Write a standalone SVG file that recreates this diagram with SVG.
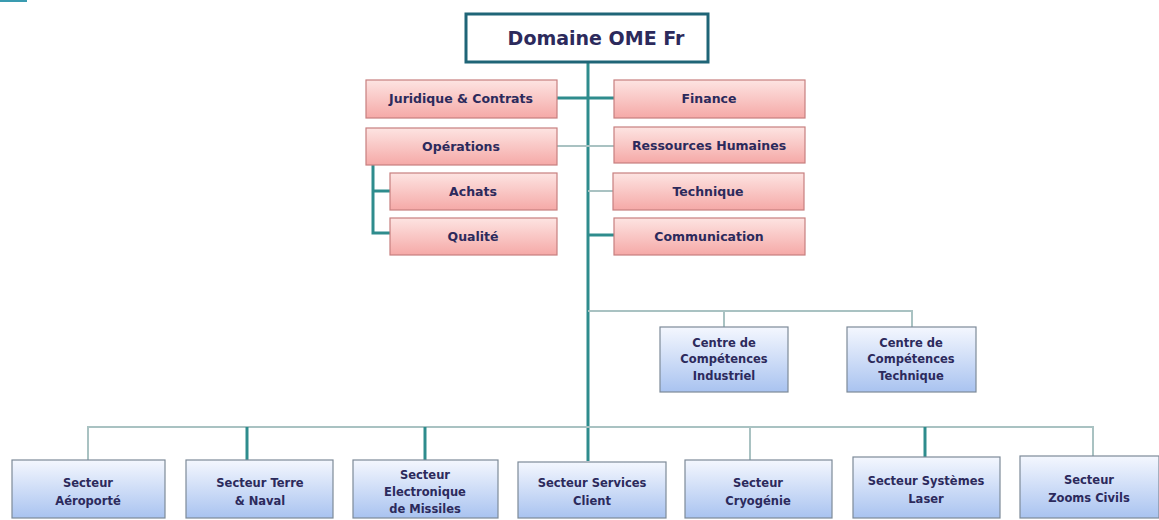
<svg xmlns="http://www.w3.org/2000/svg" width="1159" height="520" viewBox="0 0 1159 520">
<defs>
<linearGradient id="pink" x1="0" y1="0" x2="0" y2="1">
<stop offset="0" stop-color="#fde4e2"/>
<stop offset="1" stop-color="#f5a9a7"/>
</linearGradient>
<linearGradient id="blue" x1="0" y1="0" x2="0" y2="1">
<stop offset="0" stop-color="#f4f7fe"/>
<stop offset="1" stop-color="#a9c3f0"/>
</linearGradient>
<style>
.pk{fill:url(#pink);stroke:#c77f7f;stroke-width:1.2}
.bl{fill:url(#blue);stroke:#7d8a98;stroke-width:1.2}
.t{font-family:"DejaVu Sans","Liberation Sans",sans-serif;font-weight:bold;fill:#2c2a5c;text-anchor:middle}
.s{font-size:12.5px}
.b{font-size:11.5px}
.main{stroke:#2e8c8d;stroke-width:3;fill:none}
.thin{stroke:#a9c2c2;stroke-width:2;fill:none}
</style>
</defs>
<rect width="1159" height="520" fill="#ffffff"/>
<rect x="0" y="0" width="27" height="2" fill="#3a9bb0"/>
<g id="connectors">
<line class="main" x1="588" y1="62" x2="588" y2="461"/>
<line class="main" x1="557" y1="98" x2="614" y2="98"/>
<line class="thin" x1="557" y1="146" x2="614" y2="146"/>
<line class="thin" x1="588" y1="191" x2="613" y2="191"/>
<line class="main" x1="588" y1="235" x2="614" y2="235"/>
<polyline class="main" points="373,165 373,233 390,233"/>
<line class="main" x1="373" y1="191" x2="390" y2="191"/>
<polyline class="thin" points="588,311 912,311 912,327"/>
<line class="thin" x1="724" y1="311" x2="724" y2="327"/>
<polyline class="thin" points="88,460 88,427 1093,427 1093,456"/>
<line class="main" x1="247" y1="427" x2="247" y2="460"/>
<line class="main" x1="425" y1="427" x2="425" y2="460"/>
<line class="thin" x1="750" y1="427" x2="750" y2="460"/>
<line class="main" x1="925" y1="427" x2="925" y2="457"/>
</g>
<g id="domaine">
<rect x="466" y="14" width="242" height="48" fill="#ffffff" stroke="#1f6577" stroke-width="3"/>
<text class="t" x="596" y="45" font-size="19">Domaine OME Fr</text>
</g>
<g id="juridique"><rect class="pk" x="366" y="80" width="191" height="38"/><text class="t s" x="461" y="103">Juridique &amp; Contrats</text></g>
<g id="finance"><rect class="pk" x="614" y="80" width="191" height="38"/><text class="t s" x="709" y="103">Finance</text></g>
<g id="operations"><rect class="pk" x="366" y="128" width="191" height="37"/><text class="t s" x="461" y="151">Opérations</text></g>
<g id="rh"><rect class="pk" x="614" y="127" width="191" height="36"/><text class="t s" x="709" y="150">Ressources Humaines</text></g>
<g id="achats"><rect class="pk" x="390" y="173" width="167" height="37"/><text class="t s" x="473" y="196">Achats</text></g>
<g id="technique"><rect class="pk" x="613" y="173" width="191" height="37"/><text class="t s" x="708" y="196">Technique</text></g>
<g id="qualite"><rect class="pk" x="390" y="218" width="167" height="37"/><text class="t s" x="473" y="241">Qualité</text></g>
<g id="communication"><rect class="pk" x="614" y="218" width="191" height="37"/><text class="t s" x="709" y="241">Communication</text></g>
<g id="cc-industriel"><rect class="bl" x="660" y="327" width="128" height="65"/><text class="t b" x="724" y="347">Centre de</text><text class="t b" x="724" y="363">Compétences</text><text class="t b" x="724" y="380">Industriel</text></g>
<g id="cc-technique"><rect class="bl" x="847" y="327" width="129" height="65"/><text class="t b" x="911" y="347">Centre de</text><text class="t b" x="911" y="363">Compétences</text><text class="t b" x="911" y="380">Technique</text></g>
<g id="s-aero"><rect class="bl" x="12" y="460" width="153" height="58"/><text class="t b" x="88" y="487">Secteur</text><text class="t b" x="88" y="505">Aéroporté</text></g>
<g id="s-terre"><rect class="bl" x="186" y="460" width="147" height="58"/><text class="t b" x="260" y="487">Secteur Terre</text><text class="t b" x="260" y="505">&amp; Naval</text></g>
<g id="s-elec"><rect class="bl" x="353" y="460" width="145" height="58"/><text class="t b" x="425" y="479">Secteur</text><text class="t b" x="425" y="496">Electronique</text><text class="t b" x="425" y="513">de Missiles</text></g>
<g id="s-services"><rect class="bl" x="518" y="462" width="148" height="56"/><text class="t b" x="592" y="487">Secteur Services</text><text class="t b" x="592" y="505">Client</text></g>
<g id="s-cryo"><rect class="bl" x="685" y="460" width="147" height="58"/><text class="t b" x="758" y="487">Secteur</text><text class="t b" x="758" y="505">Cryogénie</text></g>
<g id="s-laser"><rect class="bl" x="853" y="457" width="147" height="61"/><text class="t b" x="926" y="485">Secteur Systèmes</text><text class="t b" x="926" y="503">Laser</text></g>
<g id="s-zooms"><rect class="bl" x="1020" y="456" width="139" height="62"/><text class="t b" x="1089" y="484">Secteur</text><text class="t b" x="1089" y="502">Zooms Civils</text></g>
</svg>
